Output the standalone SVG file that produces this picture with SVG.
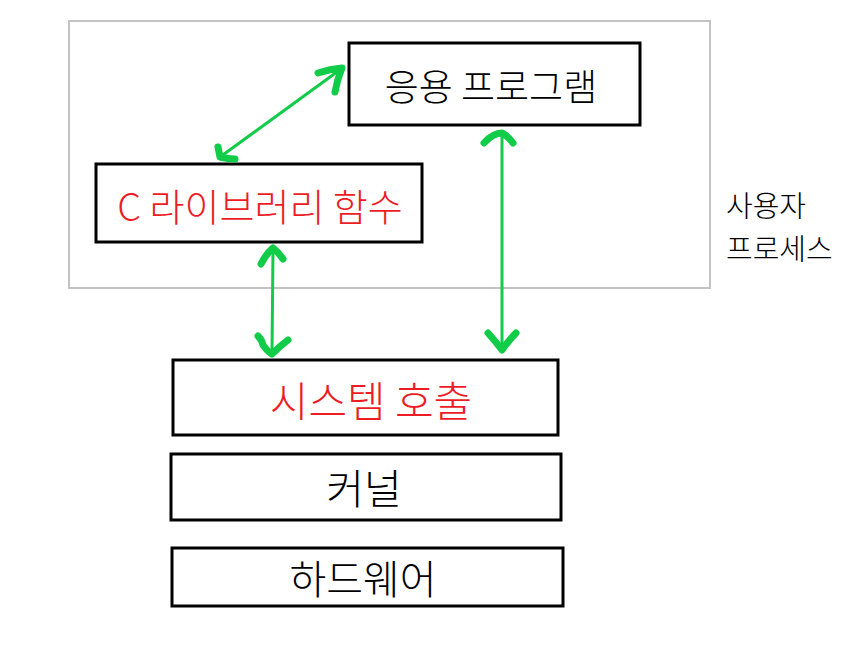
<svg xmlns="http://www.w3.org/2000/svg" width="855" height="664" viewBox="0 0 855 664">
<style>
.box{fill:#fff;stroke:#000;stroke-width:3}
.t{font-family:"Noto Sans CJK KR","Noto Sans",sans-serif;font-weight:300;text-anchor:middle;dominant-baseline:central}
.red{fill:#ed1c24}
.line{stroke:#10cc48;stroke-width:3;fill:none;stroke-linecap:round}
.head{stroke:#10cc48;stroke-width:7;fill:none;stroke-linecap:round;stroke-linejoin:round}
</style>
<rect width="855" height="664" fill="#fff"/>
<g id="user-process">
<rect x="69" y="21" width="641" height="267" fill="none" stroke="#c3c3c3" stroke-width="2"/>
<text class="t" x="726" y="204" font-size="29" style="text-anchor:start">사용자</text>
<text class="t" x="726" y="247" font-size="29" style="text-anchor:start">프로세스</text>
</g>
<g id="app">
<rect class="box" x="349" y="43" width="291" height="82"/>
<text class="t" x="491" y="85" font-size="37">응용 프로그램</text>
</g>
<g id="clib">
<rect class="box" x="96" y="164" width="326" height="78"/>
<text class="t red" x="260" y="204" font-size="38">C 라이브러리 함수</text>
</g>
<g id="syscall">
<rect class="box" x="173" y="360" width="385" height="75"/>
<text class="t red" x="371" y="398" font-size="42">시스템 호출</text>
</g>
<g id="kernel">
<rect class="box" x="171" y="454" width="390" height="66"/>
<text class="t" x="364" y="486" font-size="41">커널</text>
</g>
<g id="hardware">
<rect class="box" x="172" y="548" width="391" height="58"/>
<text class="t" x="363" y="577" font-size="40">하드웨어</text>
</g>
<g id="connectors">
<line class="line" x1="220" y1="157" x2="341" y2="69"/>
<path class="head" d="M318,73 Q330,69 342,68 Q337,80 335,92"/>
<path class="head" d="M218,147 Q219,152 220,157 Q228,159 235,159"/>
<line class="line" x1="273" y1="249" x2="272" y2="354"/>
<path class="head" d="M261,264 Q266,254 273,248 Q279,253 283,259"/>
<path class="head" d="M258,336 Q262,340 263,345 Q268,352 272,354 Q280,346 288,340"/>
<line class="line" x1="502" y1="134" x2="502" y2="349"/>
<path class="head" d="M484,143 Q493,133 502,133 Q508,136 513,143"/>
<path class="head" d="M488,333 Q496,342 502,350 Q509,340 516,333"/>
</g>
</svg>
